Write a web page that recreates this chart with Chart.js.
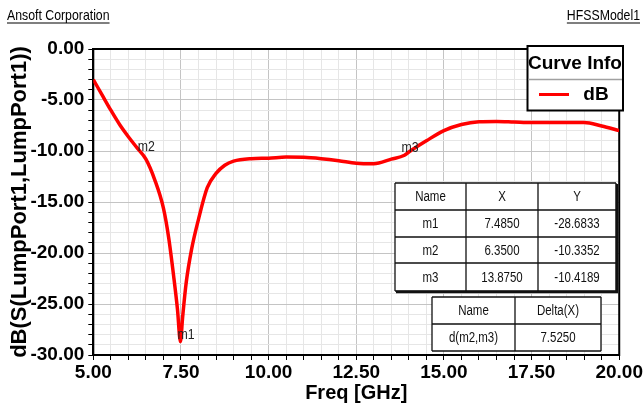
<!DOCTYPE html>
<html>
<head>
<meta charset="utf-8">
<title>S11</title>
<script src="https://cdn.jsdelivr.net/npm/chart.js@4.4.1/dist/chart.umd.min.js"></script>
<style>
    html, body { margin: 0; padding: 0; background: #fff; }
    #wrap { width: 644px; height: 406px; position: relative; }
</style>
</head>
<body>
<div id="wrap"><canvas id="s11Chart" width="644" height="406"></canvas></div>
<script>
// sweep (GHz / dB)
const freqs    = [5.0, 5.25, 5.5, 5.75, 6.0, 6.25, 6.5, 6.75, 7.0, 7.15, 7.3, 7.4, 7.485, 7.55, 7.65, 7.8, 8.0, 8.25, 8.5, 8.75, 9.0, 9.5, 10.0, 10.5, 11.0, 11.5, 12.0, 12.5, 13.0, 13.5, 13.875, 14.0, 14.5, 15.0, 15.5, 16.0, 16.5, 17.0, 17.5, 18.0, 18.5, 19.0, 19.5, 20.0];
const dbValues = [-3.0, -4.5, -6.0, -7.4, -8.6, -9.7, -10.8, -12.8, -15.6, -18.5, -22.5, -25.5, -28.68, -26.2, -22.9, -19.7, -16.7, -13.6, -12.2, -11.4, -11.0, -10.75, -10.7, -10.6, -10.62, -10.75, -10.95, -11.2, -11.25, -10.8, -10.42, -10.1, -9.0, -8.0, -7.4, -7.13, -7.1, -7.15, -7.2, -7.2, -7.2, -7.2, -7.55, -8.0];

const xMajorTicks = [5, 7.5, 10, 12.5, 15, 17.5, 20];
const yMajorTicks = [0, -5, -10, -15, -20, -25, -30];

const markerNames = ['m1', 'm2', 'm3'];
const markerFreqs = [7.485, 6.35, 13.875];
const markerDb    = [-28.6833, -10.3352, -10.4189];
const deltaPair   = [1, 2]; // d(m2,m3)

const TXT = "'Liberation Sans', Arial, sans-serif";
const SQUEEZE = 0.82; // no narrow face installed, so squeeze the plain one

const isMajor = (v, majors) => majors.some(m => Math.abs(m - v) < 1e-6);

// draws text squeezed horizontally, anchored like fillText
function narrowText(ctx, str, x, y) {
    ctx.save();
    ctx.translate(x, y);
    ctx.scale(SQUEEZE, 1);
    ctx.fillText(str, 0, 0);
    ctx.restore();
    return ctx.measureText(str).width * SQUEEZE;
}

/**
 * Plot frame, marker tags, marker tables and the Curve Info box
 */
const decorPlugin = {
    id: 'decor',
    beforeDatasetsDraw(chart) {
        const { ctx, chartArea: a } = chart;
        ctx.save();
        ctx.strokeStyle = '#000';
        ctx.lineWidth = 2;
        ctx.strokeRect(a.left, a.top, a.right - a.left, a.bottom - a.top);
        ctx.restore();
    },
    afterDatasetsDraw(chart) {
        const { ctx, scales } = chart;
        ctx.save();

        // header texts
        ctx.fillStyle = '#000';
        ctx.font = `15px ${TXT}`;
        ctx.textBaseline = 'alphabetic';
        ctx.textAlign = 'left';
        let w = narrowText(ctx, 'Ansoft Corporation', 7, 20);
        ctx.fillRect(7, 22.5, w, 1);
        ctx.textAlign = 'right';
        w = narrowText(ctx, 'HFSSModel1', 640, 20);
        ctx.fillRect(640 - w, 22.5, w, 1);

        // marker tags
        ctx.font = `15px ${TXT}`;
        ctx.fillStyle = '#222';
        ctx.textAlign = 'left';
        markerNames.forEach((n, i) => {
            const px = scales.x.getPixelForValue(markerFreqs[i]);
            const py = scales.y.getPixelForValue(markerDb[i]);
            narrowText(ctx, n, px - 3, py - 3);
        });

        // marker table
        const rows = [['Name', 'X', 'Y']].concat(markerNames.map((n, i) =>
            [n, markerFreqs[i].toFixed(4), markerDb[i].toFixed(4)]));
        drawTable(ctx, [395, 466, 538, 616], [183, 210, 237, 263, 291], rows, true);

        const dx = Math.abs(markerFreqs[deltaPair[1]] - markerFreqs[deltaPair[0]]);
        const drows = [['Name', 'Delta(X)'],
            [`d(${markerNames[deltaPair[0]]},${markerNames[deltaPair[1]]})`, dx.toFixed(4)]];
        drawTable(ctx, [432, 515, 601], [297, 324, 351], drows, false);

        // Curve Info box
        const ds = chart.data.datasets[0];
        ctx.fillStyle = '#fff';
        ctx.fillRect(527.5, 46, 95.5, 64.5);
        ctx.strokeStyle = '#000';
        ctx.lineWidth = 2;
        ctx.strokeRect(527.5, 46, 95.5, 64.5);
        ctx.strokeStyle = '#a0a0a0';
        ctx.lineWidth = 1.5;
        ctx.beginPath(); ctx.moveTo(528.5, 79.5); ctx.lineTo(622, 79.5); ctx.stroke();
        ctx.fillStyle = '#000';
        ctx.font = `bold 19px ${TXT}`;
        ctx.textAlign = 'center';
        ctx.textBaseline = 'middle';
        ctx.fillText('Curve Info', 575, 63.5);
        ctx.fillText(ds.label, 596, 95);
        ctx.strokeStyle = ds.borderColor;
        ctx.lineWidth = 3;
        ctx.beginPath(); ctx.moveTo(539, 94.5); ctx.lineTo(569, 94.5); ctx.stroke();

        ctx.restore();
    }
};

function drawTable(ctx, xs, ys, rows, shadow) {
    const L = xs[0], R = xs[xs.length - 1], T = ys[0], B = ys[ys.length - 1];
    ctx.fillStyle = '#fff';
    ctx.fillRect(L, T, R - L, B - T);
    ctx.strokeStyle = '#111';
    ctx.lineWidth = 1.3;
    ctx.beginPath();
    xs.forEach(x => { ctx.moveTo(x, T); ctx.lineTo(x, B); });
    ys.forEach(y => { ctx.moveTo(L, y); ctx.lineTo(R, y); });
    ctx.stroke();
    if (shadow) {
        ctx.lineWidth = 2.5;
        ctx.beginPath();
        ctx.moveTo(R + 1, T + 1); ctx.lineTo(R + 1, B + 1); ctx.lineTo(L + 1, B + 1);
        ctx.stroke();
    }
    ctx.fillStyle = '#111';
    ctx.font = `14px ${TXT}`;
    ctx.textAlign = 'center';
    ctx.textBaseline = 'middle';
    rows.forEach((r, ri) => r.forEach((cell, ci) => {
        narrowText(ctx, cell, (xs[ci] + xs[ci + 1]) / 2, (ys[ri] + ys[ri + 1]) / 2 + 1);
    }));
}

const gridColor = majors => c => isMajor(c.tick.value, majors) ? '#c4c4c4' : '#e6e6e6';

new Chart(document.getElementById('s11Chart'), {
    type: 'line',
    data: {
        datasets: [{
            label: 'dB',
            data: freqs.map((f, i) => ({ x: f, y: dbValues[i] })),
            borderColor: '#ff0000',
            borderWidth: 3.5,
            pointRadius: 0,
            cubicInterpolationMode: 'monotone',
            fill: false
        }]
    },
    options: {
        responsive: false,
        devicePixelRatio: 1,
        animation: false,
        layout: { padding: { top: 49, right: 22.5, left: 0, bottom: 0 } },
        plugins: { legend: { display: false }, tooltip: { enabled: false } },
        scales: {
            x: {
                type: 'linear',
                min: 5, max: 20,
                afterFit: s => { s.height = 51; },
                border: { color: '#000', width: 2 },
                grid: { color: gridColor(xMajorTicks), lineWidth: 1, tickColor: '#000', tickLength: 5 },
                ticks: {
                    stepSize: 0.5, autoSkip: false, maxRotation: 0, padding: 1,
                    color: '#000',
                    font: { family: TXT, size: 19, weight: 'bold' },
                    callback: v => isMajor(v, xMajorTicks) ? v.toFixed(2) : ''
                },
                title: {
                    display: true, text: 'Freq [GHz]', color: '#000',
                    font: { family: TXT, size: 20, weight: 'bold' },
                    padding: { top: 0, bottom: 1 }
                }
            },
            y: {
                min: -30, max: 0,
                afterFit: s => { s.width = 93.3; },
                border: { color: '#000', width: 2 },
                grid: { color: gridColor(yMajorTicks), lineWidth: 1, tickColor: '#000', tickLength: 5 },
                ticks: {
                    stepSize: 1, autoSkip: false, padding: 4,
                    color: '#000',
                    font: { family: TXT, size: 19, weight: 'bold' },
                    callback: v => isMajor(v, yMajorTicks) ? v.toFixed(2) : ''
                },
                title: {
                    display: true, text: 'dB(S(LumpPort1,LumpPort1))', color: '#000',
                    font: { family: TXT, size: 22, weight: 'bold' },
                    padding: { top: 7, bottom: 0 }
                }
            }
        }
    },
    plugins: [decorPlugin]
});
</script>
</body>
</html>
